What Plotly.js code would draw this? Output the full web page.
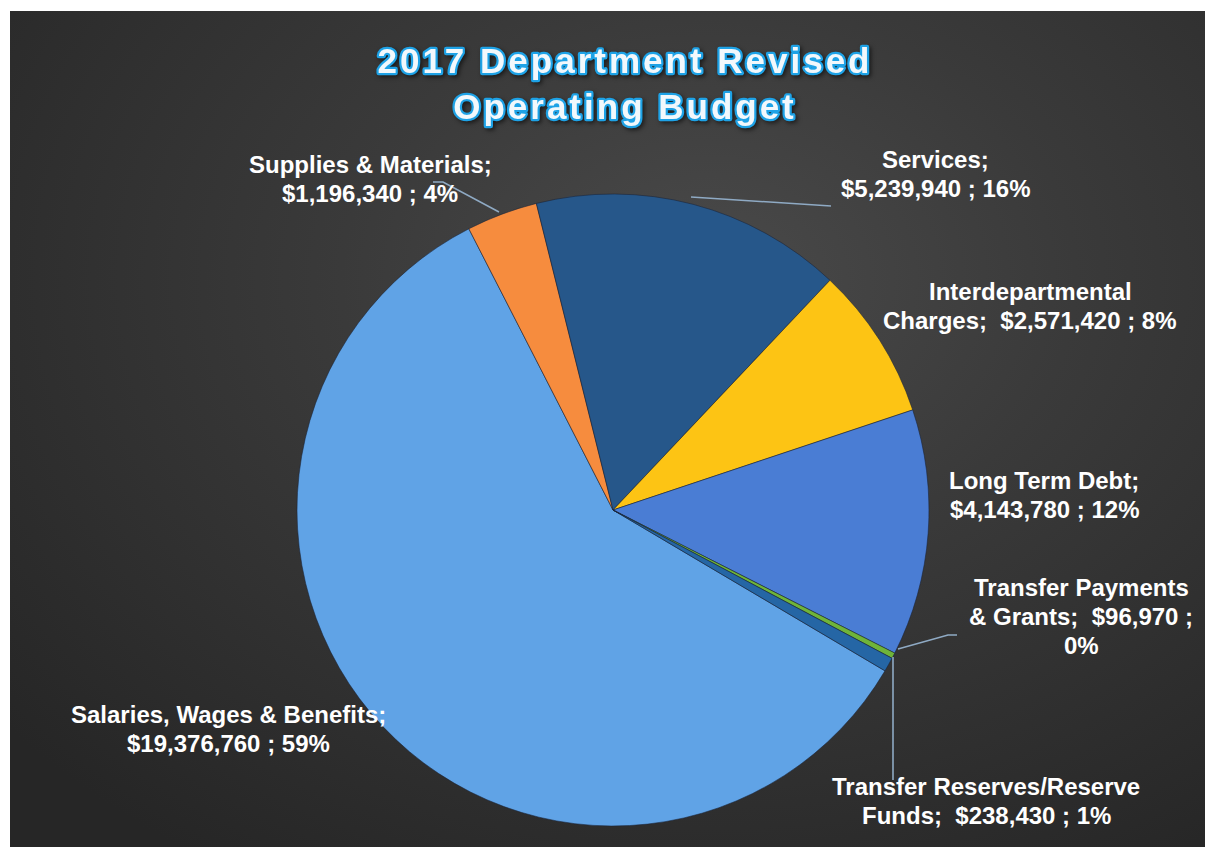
<!DOCTYPE html>
<html>
<head>
<meta charset="utf-8">
<script src="https://cdn.plot.ly/plotly-3.0.1.min.js"></script>
<style>
  html, body { margin: 0; padding: 0; background: #262626; overflow: hidden; }
  #wrap { position: absolute; left: 0; top: 0; width: 1225px; height: 867px;
          border-left: 10px solid #ffffff; border-top: 11px solid #ffffff;
          background: radial-gradient(ellipse 75% 80% at 57% 31%, #4a4a4a 0%, #3a3a3a 40%, #262626 100%); }
  #chart { width: 1195px; height: 836px; }
  .gtitle { stroke: #1EA2E6 !important; stroke-width: 4.5px !important; paint-order: stroke fill;
            stroke-linejoin: round; letter-spacing: 3px;
            filter: drop-shadow(2px 2px 2px rgba(0,0,0,0.55)); }
</style>
</head>
<body>
<div id="wrap"><div id="chart"></div></div>
<script>
// ---- data ----
const categories = [
  "Salaries, Wages & Benefits",
  "Supplies & Materials",
  "Services",
  "Interdepartmental Charges",
  "Long Term Debt",
  "Transfer Payments & Grants",
  "Transfer Reserves/Reserve Funds"
];
const values = [19376760, 1196340, 5239940, 2571420, 4143780, 96970, 238430];
const percentLabels = [59, 4, 16, 8, 12, 0, 1];
// label layout as wrapped in the reference ({v} = value, {p} = percent)
const labelTemplates = [
  "Salaries, Wages & Benefits;<br>{v} ; {p}",
  "Supplies & Materials;<br>{v} ; {p}",
  "Services;<br>{v} ; {p}",
  "Interdepartmental<br>Charges;\u00a0 {v} ; {p}",
  "Long Term Debt;<br>{v} ; {p}",
  "Transfer Payments<br>& Grants;\u00a0 {v} ;<br>{p}",
  "Transfer Reserves/Reserve<br>Funds;\u00a0 {v} ; {p}"
];
const sliceColors = ["#60A3E6", "#F68C3E", "#26578A", "#FDC414", "#4A7DD4", "#6FB43A", "#2566A5"];

// ---- layout helpers (pixel positions on the page -> paper coords) ----
const W = 1195, H = 836, OX = 10, OY = 11;
const px = x => (x - OX) / W;
const py = y => 1 - (y - OY) / H;

const fmt = v => "$" + v.toLocaleString("en-US");
const labels = labelTemplates.map((t, i) =>
  t.replace("{v}", fmt(values[i])).replace("{p}", percentLabels[i] + "%"));

// label block centres (page pixels) and line pitch
const labelPos = [
  [228, 729], [370, 179], [935, 174], [1030, 305.5], [1044, 495], [1081, 616], [986, 801]
];
const LINE = 29;

const annotations = [];
labels.forEach((t, i) => {
  const lines = t.split("<br>");
  lines.forEach((ln, k) => {
    annotations.push({
      text: ln, x: px(labelPos[i][0]),
      y: py(labelPos[i][1] + (k - (lines.length - 1) / 2) * LINE),
      xref: "paper", yref: "paper",
      xanchor: "center", yanchor: "middle", showarrow: false, align: "center",
      font: { family: "Arial, 'Liberation Sans', sans-serif", size: 24, color: "#ffffff", weight: "bold" }
    });
  });
});

// leader lines (page pixels)
const leaders = [
  [[433, 182], [443, 182], [499, 212]],
  [[691, 197], [831, 206]],
  [[898, 649], [948, 635], [957, 635]],
  [[893, 657], [893, 780]]
];
const shapes = leaders.map(pts => ({
  type: "path", xref: "paper", yref: "paper",
  path: pts.map((p, j) => (j ? "L" : "M") + px(p[0]) + "," + py(p[1])).join(" "),
  line: { color: "#8FAAC4", width: 1.6 }
}));

// pie centre (613,510), radius 316 on page
const cx = 613, cy = 510, r = 316;

const trace = {
  type: "pie",
  labels: categories,
  values: values,
  sort: false,
  direction: "clockwise",
  rotation: 120.6,
  textinfo: "none",
  hoverinfo: "none",
  marker: { colors: sliceColors, line: { color: "rgba(25,35,55,0.55)", width: 1 } },
  domain: { x: [px(cx - r), px(cx + r)], y: [py(cy + r), py(cy - r)] },
  showlegend: false
};

const layout = {
  width: W, height: H,
  margin: { l: 0, r: 0, t: 0, b: 0 },
  paper_bgcolor: "rgba(0,0,0,0)",
  plot_bgcolor: "rgba(0,0,0,0)",
  showlegend: false,
  title: {
    text: "2017 Department Revised<br>Operating Budget",
    x: px(625), xanchor: "center",
    y: py(73), yanchor: "middle", yref: "paper",
    font: { family: "Arial, 'Liberation Sans', sans-serif", size: 35, color: "#F2F8FC", weight: "bold" }
  },
  annotations: annotations,
  shapes: shapes
};

Plotly.newPlot("chart", [trace], layout, { displayModeBar: false, staticPlot: true });
</script>
</body>
</html>
